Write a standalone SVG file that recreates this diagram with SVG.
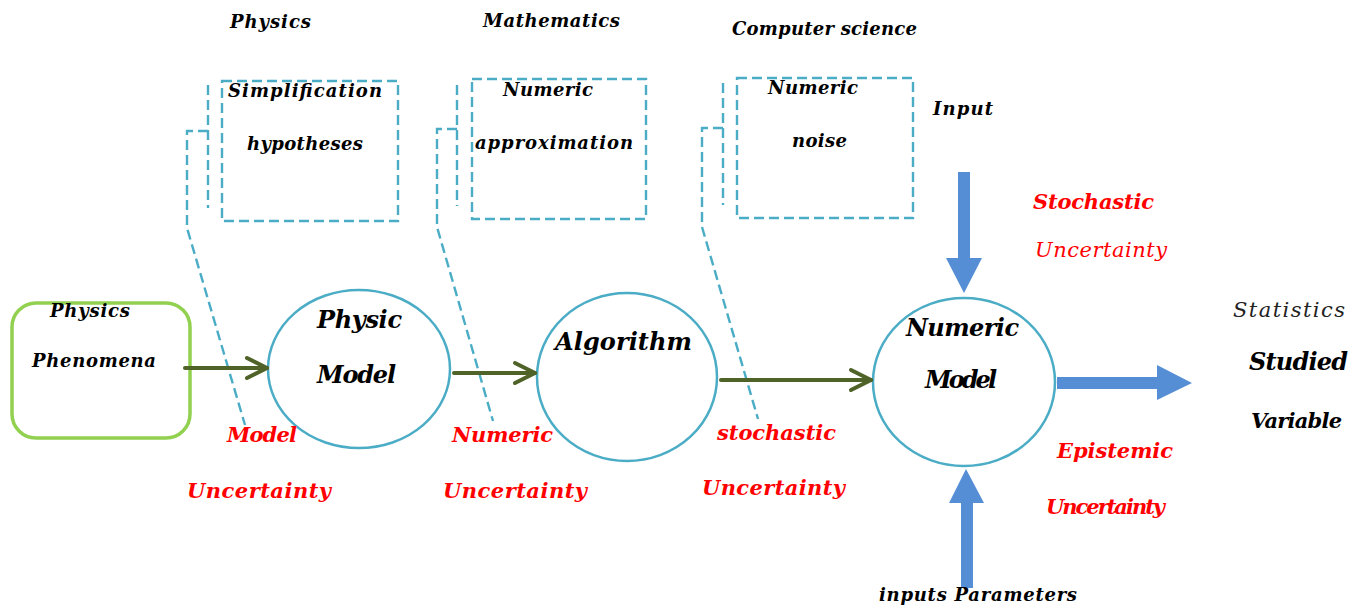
<svg xmlns="http://www.w3.org/2000/svg" width="1365" height="611" viewBox="0 0 1365 611">
<style>
text{font-family:"DejaVu Serif","Liberation Serif",serif;font-style:italic;font-weight:bold;fill:#000}
.s{font-size:18px}
.m{font-size:21px}
.l{font-size:24px}
.r{fill:#ff0000}
.n{font-weight:normal}
.dash{fill:none;stroke:#4bacc6;stroke-width:2.4;stroke-dasharray:10 5}
.node{fill:#fff;stroke:#4bacc6;stroke-width:2.5}
.conn{stroke:#4f6228;stroke-width:4;fill:none;stroke-linecap:round;marker-end:url(#chev)}
.blue{fill:#558ed5}
</style>
<defs>
<marker id="chev" markerUnits="userSpaceOnUse" viewBox="-24 -13 28 26" refX="0" refY="0" markerWidth="28" markerHeight="26" orient="auto" overflow="visible">
<path d="M-20,-10 L0,0 L-20,10" fill="none" stroke="#4f6228" stroke-width="4" stroke-linecap="round" stroke-linejoin="round"/>
</marker>
</defs>

<g id="label-disciplines">
<text class="s" x="230" y="28" textLength="81" lengthAdjust="spacing">Physics</text>
<text class="s" x="483" y="27" textLength="137" lengthAdjust="spacing">Mathematics</text>
<text class="s" x="732" y="35" textLength="185" lengthAdjust="spacing">Computer science</text>
</g>

<g id="callout-simplification">
<rect class="dash" x="222" y="81" width="176" height="140"/>
<path class="dash" d="M208,85 V208"/>
<path class="dash" d="M208,131 H187 V228 L245,425"/>
<text class="s" x="228" y="97" textLength="154" lengthAdjust="spacing">Simplification</text>
<text class="s" x="247" y="150" textLength="116" lengthAdjust="spacing">hypotheses</text>
</g>

<g id="callout-approximation">
<rect class="dash" x="472" y="79" width="174" height="140"/>
<path class="dash" d="M457,85 V206"/>
<path class="dash" d="M457,129 H437 V227 L493,421"/>
<text class="s" x="503" y="96" textLength="90" lengthAdjust="spacing">Numeric</text>
<text class="s" x="475" y="149" textLength="158" lengthAdjust="spacing">approximation</text>
</g>

<g id="callout-noise">
<rect class="dash" x="737" y="78" width="176" height="140"/>
<path class="dash" d="M723,83 V205"/>
<path class="dash" d="M723,128 H702 V227 L758,419"/>
<text class="s" x="768" y="94" textLength="90" lengthAdjust="spacing">Numeric</text>
<text class="s" x="792" y="147" textLength="55" lengthAdjust="spacing">noise</text>
</g>

<g id="node-phenomena">
<rect x="12" y="303" width="178" height="135" rx="24" ry="24" fill="#fff" stroke="#92d050" stroke-width="3.5"/>
<text class="s" x="50" y="317" textLength="80" lengthAdjust="spacing">Physics</text>
<text class="s" x="32" y="367" textLength="124" lengthAdjust="spacing">Phenomena</text>
</g>

<g id="node-physic-model">
<ellipse class="node" cx="359" cy="369" rx="91" ry="79"/>
<text class="l" x="317" y="328" textLength="85" lengthAdjust="spacing">Physic</text>
<text class="l" x="317" y="383" textLength="79" lengthAdjust="spacing">Model</text>
</g>

<g id="node-algorithm">
<ellipse class="node" cx="627" cy="377" rx="90" ry="84"/>
<text class="l" x="555" y="350" textLength="137" lengthAdjust="spacing">Algorithm</text>
</g>

<g id="node-numeric-model">
<ellipse class="node" cx="964" cy="382" rx="91" ry="84"/>
<text class="l" x="906" y="336" textLength="113" lengthAdjust="spacing">Numeric</text>
<text class="l" x="925" y="388" textLength="72" lengthAdjust="spacing">Model</text>
</g>

<g id="connectors">
<path class="conn" d="M185,368 H267"/>
<path class="conn" d="M454,373 H535"/>
<path class="conn" d="M721,380 H871"/>
<polygon class="blue" points="958,172 970,172 970,258 982,258 964,293 946,258 958,258"/>
<polygon class="blue" points="961,588 973,588 973,503 984,503 966,469 949,503 961,503"/>
<polygon class="blue" points="1057,377 1157,377 1157,365 1192,383 1157,400 1157,389 1057,389"/>
</g>

<g id="labels-uncertainty">
<text class="m r" x="227" y="442" textLength="70" lengthAdjust="spacing">Model</text>
<text class="m r" x="187" y="498" textLength="144" lengthAdjust="spacing">Uncertainty</text>
<text class="m r" x="452" y="442" textLength="101" lengthAdjust="spacing">Numeric</text>
<text class="m r" x="443" y="498" textLength="144" lengthAdjust="spacing">Uncertainty</text>
<text class="m r" x="717" y="440" textLength="119" lengthAdjust="spacing">stochastic</text>
<text class="m r" x="702" y="495" textLength="143" lengthAdjust="spacing">Uncertainty</text>
<text class="m r" x="1033" y="209" textLength="121" lengthAdjust="spacing">Stochastic</text>
<text class="m r n" x="1035" y="257" textLength="132" lengthAdjust="spacing">Uncertainty</text>
<text class="m r" x="1057" y="458" textLength="116" lengthAdjust="spacing">Epistemic</text>
<text class="m r" x="1046" y="514" textLength="119" lengthAdjust="spacing">Uncertainty</text>
</g>

<g id="labels-io">
<text class="s" x="933" y="115" textLength="60" lengthAdjust="spacing">Input</text>
<text class="s" x="879" y="601" textLength="198" lengthAdjust="spacing">inputs Parameters</text>
<text class="m n" x="1233" y="317" textLength="112" lengthAdjust="spacing" style="fill:#222">Statistics</text>
<text class="l" x="1249" y="370" textLength="99" lengthAdjust="spacing">Studied</text>
<text class="m" x="1251" y="428" textLength="91" lengthAdjust="spacing">Variable</text>
</g>
</svg>
